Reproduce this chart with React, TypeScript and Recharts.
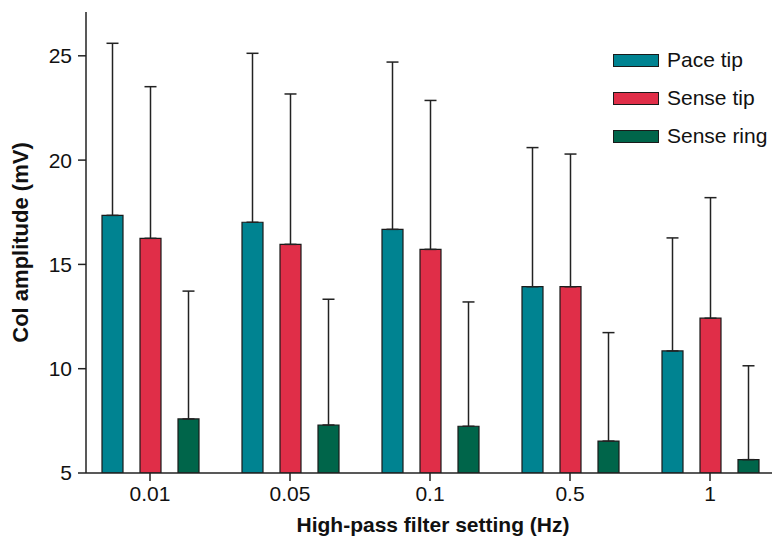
import { Bar, BarChart, ErrorBar, XAxis, YAxis } from 'recharts';

const categories = ['0.01', '0.05', '0.1', '0.5', '1'];

// bar heights (mean) and top of the error whisker, in mV
const paceTip = [17.35, 17.02, 16.68, 13.93, 10.85];
const paceTipTop = [25.6, 25.12, 24.7, 20.6, 16.27];
const senseTip = [16.25, 15.96, 15.72, 13.93, 12.42];
const senseTipTop = [23.52, 23.17, 22.86, 20.29, 18.2];
const senseRing = [7.59, 7.3, 7.24, 6.53, 5.64];
const senseRingTop = [13.72, 13.33, 13.2, 11.73, 10.14];

const yTicks = [5, 10, 15, 20, 25];

const SERIES = [
    { key: 'pace', name: 'Pace tip', color: '#008391' },
    { key: 'senseTip', name: 'Sense tip', color: '#E02E48' },
    { key: 'senseRing', name: 'Sense ring', color: '#00654A' },
];

const data = categories.map((c, i) => ({
    name: c,
    pace: paceTip[i],
    paceErr: [0, paceTipTop[i] - paceTip[i]],
    senseTip: senseTip[i],
    senseTipErr: [0, senseTipTop[i] - senseTip[i]],
    senseRing: senseRing[i],
    senseRingErr: [0, senseRingTop[i] - senseRing[i]],
}));

const FONT = '"Liberation Sans", Arial, Helvetica, sans-serif';

// legend sits over the plot in the top right, so keep it out of the chart layout
const LegendBox = () => (
    <div style={{ position: 'absolute', left: 613, top: 41, fontFamily: FONT, fontSize: 21, color: '#111' }}>
        {SERIES.map(s => (
            <div key={s.key} style={{ display: 'flex', alignItems: 'center', height: 38 }}>
                <div style={{ width: 44, height: 11, background: s.color, border: '1.5px solid #1a1a1a', marginRight: 8 }} />
                <span>{s.name}</span>
            </div>
        ))}
    </div>
);

export default function App() {
    return (
        <div style={{ position: 'absolute', left: 0, top: 0, width: 772, height: 539, overflow: 'hidden', background: '#fff' }}>
            <BarChart
                width={780}
                height={539}
                data={data}
                margin={{ top: 12, right: 0, bottom: 0, left: 0 }}
                barSize={21}
                barGap={17}
            >
                <XAxis
                    dataKey="name"
                    height={66}
                    padding={{ left: -6, right: 0 }}
                    stroke="#222"
                    strokeWidth={1.5}
                    tickSize={8}
                    tickMargin={5}
                    tick={{ fill: '#111', fontSize: 21, fontFamily: FONT }}
                    label={{ value: 'High-pass filter setting (Hz)', position: 'insideBottom', offset: 7, fill: '#111', fontSize: 21, fontWeight: 700, fontFamily: FONT }}
                />
                <YAxis
                    width={86}
                    domain={[5, 27.1]}
                    ticks={yTicks}
                    allowDataOverflow
                    stroke="#222"
                    strokeWidth={1.5}
                    tickSize={8}
                    tickMargin={6}
                    tick={{ fill: '#111', fontSize: 21, fontFamily: FONT }}
                    label={{ value: 'Col amplitude (mV)', angle: -90, position: 'insideLeft', offset: 20, fill: '#111', fontSize: 22, fontWeight: 700, fontFamily: FONT, style: { textAnchor: 'middle' } }}
                />
                {SERIES.map(s => (
                    <Bar key={s.key} dataKey={s.key} name={s.name} fill={s.color} stroke="#1a1a1a" strokeWidth={1.2} isAnimationActive={false}>
                        <ErrorBar dataKey={`${s.key}Err`} width={6} stroke="#222" strokeWidth={1.5} direction="y" />
                    </Bar>
                ))}
            </BarChart>
            <LegendBox />
        </div>
    );
}
